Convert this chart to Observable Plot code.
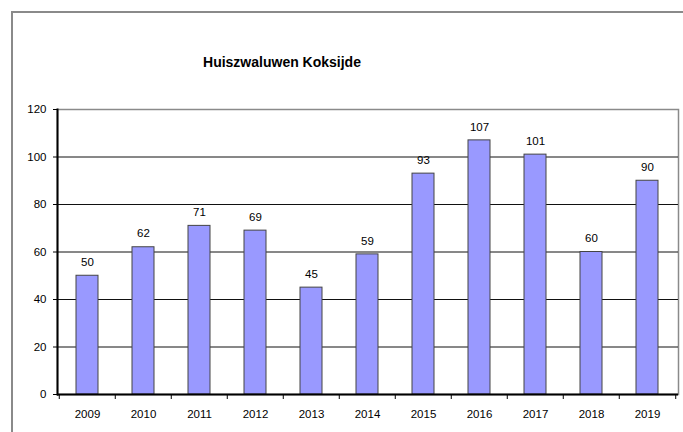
<!DOCTYPE html>
<html>
<head>
<meta charset="utf-8">
<script src="https://cdn.jsdelivr.net/npm/d3@7"></script>
<script src="https://cdn.jsdelivr.net/npm/@observablehq/plot@0.6"></script>
<style>
  html, body { margin: 0; padding: 0; background: #fff; }
  #wrap { position: relative; width: 683px; height: 432px; overflow: hidden; font-family: "Liberation Sans", Arial, sans-serif; }
  #border { position: absolute; left: 11px; top: 11px; right: -5px; bottom: -5px; border-top: 2px solid #8a8a8a; border-left: 2px solid #8a8a8a; }
  #title { position: absolute; left: 0; width: 564px; top: 54px; text-align: center; font-weight: bold; font-size: 14px; color: #000; font-family: "Liberation Sans", Arial, sans-serif; }
  #chart { position: absolute; left: 0; top: 0; }
</style>
</head>
<body>
<div id="wrap">
  <div id="chart"></div>
  <div id="border"></div>
  <div id="title">Huiszwaluwen Koksijde</div>
</div>
<script>
const years = ["2009","2010","2011","2012","2013","2014","2015","2016","2017","2018","2019"];
const counts = [50, 62, 71, 69, 45, 59, 93, 107, 101, 60, 90];
const yTicks = [0, 20, 40, 60, 80, 100, 120];
const gridLines = [20, 40, 60, 80, 100];

const data = years.map((y, i) => ({year: y, count: counts[i]}));

const W = 683, H = 432, mL = 57, mR = 5, mT = 109, mB = 38;
const step = (W - mL - mR) / years.length;
const FONT = "'Liberation Sans', Arial, sans-serif";

const chart = Plot.plot({
  width: W,
  height: H,
  marginLeft: mL,
  marginRight: mR,
  marginTop: mT,
  marginBottom: mB,
  style: {fontFamily: FONT, fontSize: "11.5px", color: "#000", background: "transparent"},
  x: {domain: years, paddingInner: 0.6, paddingOuter: 0.3, label: null},
  y: {domain: [0, 120], label: null},
  marks: [
    Plot.frame({stroke: "#8a8a8a", strokeWidth: 1.5}),
    Plot.ruleY(gridLines, {stroke: "#111", strokeWidth: 1}),
    Plot.barY(data, {x: "year", y: "count", fill: "#9999ff", stroke: "#444", strokeWidth: 1}),
    Plot.text(data, {x: "year", y: "count", text: d => String(d.count), dy: -13.5, fill: "#000", fontSize: 11.5}),
    Plot.ruleY([0], {stroke: "#000", strokeWidth: 2}),
    Plot.frame({anchor: "left", stroke: "#000", strokeWidth: 2}),
    Plot.ruleX(years, {x: d => d, y1: 0, y2: 0, dx: -step / 2, insetBottom: -5, stroke: "#000", strokeWidth: 1}),
    Plot.ruleX(years.slice(-1), {x: d => d, y1: 0, y2: 0, dx: step / 2, insetBottom: -5, stroke: "#000", strokeWidth: 1}),
    Plot.axisY({ticks: yTicks, tickSize: 4, tickPadding: 7, tickFormat: d => String(d), fontSize: 11.5, label: null}),
    Plot.axisX({tickSize: 0, tickPadding: 15, fontSize: 11.5, label: null})
  ]
});
document.getElementById("chart").appendChild(chart);
</script>
</body>
</html>
